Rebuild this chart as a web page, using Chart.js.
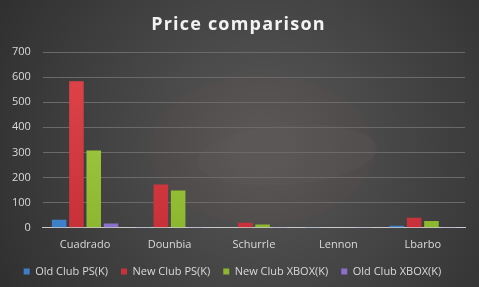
<!DOCTYPE html>
<html lang="en">
<head>
    <meta charset="UTF-8">
    <title>Price comparison</title>
    <style>
        html, body {
            margin: 0;
            padding: 0;
            background: #3a3a3a;
        }
        #wrap {
            width: 479px;
            height: 287px;
        }
    </style>
</head>
<body>
    <div id="wrap"><canvas id="priceChart" width="479" height="287"></canvas></div>
    <script src="https://cdn.jsdelivr.net/npm/chart.js"></script>
    <script>
        const chartTitle = 'Price comparison';
        const players = ['Cuadrado', 'Dounbia', 'Schurrle', 'Lennon', 'Lbarbo'];
        const oldClubPS = [32, 1, 2, 1, 8];
        const newClubPS = [584, 172, 20, 2, 40];
        const newClubXbox = [308, 149, 13, 2, 27];
        const oldClubXbox = [17, 1, 1, 1, 3];
        const yTicks = [0, 100, 200, 300, 400, 500, 600, 700];

        // dark radial backdrop plus faint logo swoosh
        const backdrop = {
            id: 'backdrop',
            beforeDraw(chart) {
                const ctx = chart.ctx;
                const w = chart.width, h = chart.height;
                ctx.save();
                const g = ctx.createRadialGradient(w * 0.55, h * 0.5, 10, w * 0.55, h * 0.5, w * 0.62);
                g.addColorStop(0, '#575757');
                g.addColorStop(1, '#303030');
                ctx.fillStyle = g;
                ctx.fillRect(0, 0, w, h);
                ctx.translate(262, 150);
                ctx.fillStyle = 'rgba(150, 80, 70, 0.06)';
                ctx.beginPath();
                ctx.ellipse(0, 0, 112, 75, 0, 0, Math.PI * 2);
                ctx.fill();
                ctx.fillStyle = 'rgba(95, 95, 95, 0.2)';
                ctx.beginPath();
                ctx.ellipse(25, 5, 90, 30, -0.08, 0, Math.PI * 2);
                ctx.fill();
                ctx.restore();
            },
            afterDraw(chart) {
                // spaced-out title, canvas text
                const ctx = chart.ctx;
                ctx.save();
                ctx.font = 'bold 18px "Open Sans"';
                ctx.letterSpacing = '1.2px';
                ctx.fillStyle = '#f2f2f2';
                ctx.textAlign = 'center';
                ctx.textBaseline = 'middle';
                ctx.fillText(chartTitle, chart.width / 2 - 1, 25);
                ctx.restore();
            }
        };

        function barFill(top, bottom) {
            return (context) => {
                const area = context.chart.chartArea;
                if (!area) return top;
                const g = context.chart.ctx.createLinearGradient(0, area.top, 0, area.bottom);
                g.addColorStop(0, top);
                g.addColorStop(1, bottom);
                return g;
            };
        }

        const ctx = document.getElementById('priceChart').getContext('2d');
        new Chart(ctx, {
            type: 'bar',
            data: {
                labels: players,
                datasets: [{
                    label: 'Old Club PS(K)',
                    data: oldClubPS,
                    backgroundColor: barFill('#5ea3e6', '#3c7fc8')
                }, {
                    label: 'New Club PS(K)',
                    data: newClubPS,
                    backgroundColor: barFill('#e0454a', '#c9313a')
                }, {
                    label: 'New Club XBOX(K)',
                    data: newClubXbox,
                    backgroundColor: barFill('#a8d24a', '#8cb72e')
                }, {
                    label: 'Old Club XBOX(K)',
                    data: oldClubXbox,
                    backgroundColor: barFill('#a98ce0', '#8a6fcc')
                }]
            },
            options: {
                responsive: false,
                animation: false,
                layout: {
                    padding: { left: 0, right: 14, top: 52, bottom: 0 }
                },
                datasets: {
                    bar: {
                        barPercentage: 0.84,
                        categoryPercentage: 0.82
                    }
                },
                plugins: {
                    title: { display: false },
                    legend: {
                        position: 'bottom',
                        labels: {
                            color: '#d9d9d9',
                            boxWidth: 6,
                            boxHeight: 6,
                            padding: 13,
                            font: { family: 'Open Sans', size: 11 }
                        }
                    },
                    tooltip: { enabled: false }
                },
                scales: {
                    x: {
                        grid: { display: false },
                        border: { color: '#c8c8c8', width: 1 },
                        ticks: {
                            color: '#d9d9d9',
                            padding: 2,
                            font: { family: 'Open Sans', size: 11 }
                        }
                    },
                    y: {
                        min: yTicks[0],
                        max: yTicks[yTicks.length - 1],
                        afterBuildTicks(axis) {
                            axis.ticks = yTicks.map(v => ({ value: v }));
                        },
                        grid: { color: '#6a6a6a', lineWidth: 1, drawTicks: false },
                        border: { display: false },
                        ticks: {
                            color: '#d9d9d9',
                            padding: 12,
                            font: { family: 'Open Sans', size: 11 }
                        }
                    }
                }
            },
            plugins: [backdrop]
        });
    </script>
</body>
</html>
